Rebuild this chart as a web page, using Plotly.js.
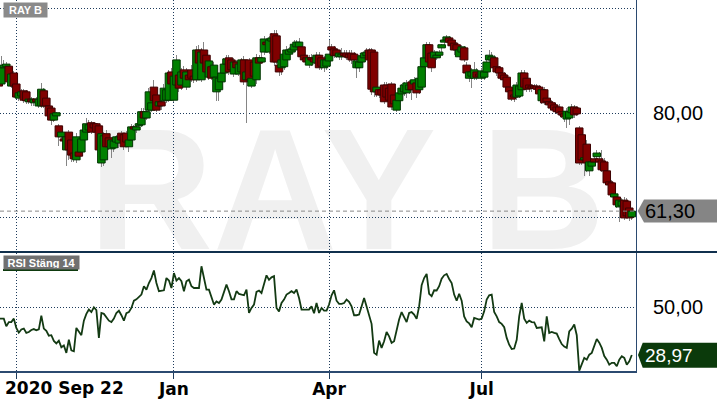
<!DOCTYPE html>
<html><head><meta charset="utf-8">
<script src="https://cdn.plot.ly/plotly-3.0.1.min.js"></script>
<style>html,body{margin:0;padding:0;background:#fff;}#chart{width:717px;height:404px;}</style>
</head><body><div id="chart"></div>
<script>
// ---- data ----
const priceOpen = [
88.3,85.6,88.7,88.9,89.0,85.2,87.7,85.6,82.9,83.3,
84.3,84.1,82.2,82.7,82.0,82.7,81.4,81.4,84.3,82.9,
81.4,81.0,78.7,79.5,77.6,75.5,75.1,73.0,76.4,74.9,
72.4,71.1,72.6,72.6,74.9,76.4,76.8,78.2,78.0,78.0,
77.6,70.5,71.1,76.1,75.3,73.2,73.4,74.5,74.3,76.2,
75.9,76.2,73.6,74.9,77.4,76.8,77.6,77.8,80.3,79.1,
80.6,80.6,85.0,83.5,81.4,82.2,82.4,82.5,82.5,87.9,
82.5,85.4,87.3,85.4,88.3,85.0,87.3,88.3,87.1,86.4,
92.1,86.4,92.1,91.1,86.9,88.9,86.9,84.1,84.5,86.0,
87.7,89.4,90.6,90.2,87.5,89.8,87.5,87.9,90.2,86.4,
90.2,85.2,89.8,86.4,90.6,89.8,91.7,93.6,91.7,93.8,
95.2,94.8,89.2,88.7,88.9,90.2,91.3,91.7,92.1,92.7,
92.7,92.7,91.1,90.6,89.2,90.6,90.4,89.6,91.1,90.6,
88.7,89.0,90.0,92.7,92.3,92.1,90.8,90.8,91.5,91.5,
91.3,91.5,91.3,88.7,88.7,89.8,90.6,91.0,92.1,92.1,
91.7,84.1,84.5,84.5,85.4,85.4,84.8,85.6,83.5,80.6,
82.4,83.7,84.1,83.9,84.5,86.0,85.6,85.8,84.5,85.0,
88.9,90.6,93.1,91.5,90.6,90.6,91.1,92.5,93.6,94.0,
94.4,94.0,93.4,93.1,90.8,91.7,92.5,89.2,86.7,87.1,
86.7,87.9,87.5,86.7,86.9,87.9,90.2,90.2,90.6,88.9,
88.7,87.7,87.3,86.9,85.0,84.3,83.5,83.1,83.3,84.5,
87.7,86.7,85.4,85.2,85.2,85.2,85.0,82.4,84.5,82.9,
82.2,82.0,81.6,81.2,81.2,80.3,79.9,78.9,79.1,80.1,
81.2,81.0,77.2,75.9,71.1,74.1,69.0,69.9,71.3,71.7,
71.3,70.9,70.7,69.0,66.9,66.7,64.0,64.0,62.1,62.3,
63.4,63.2,61.9,60.2];
const priceHigh = [
89.2,91.0,90.2,89.8,89.4,87.9,88.1,86.0,84.5,84.6,
84.6,84.5,83.3,83.1,82.9,83.1,82.9,85.8,84.8,83.5,
81.8,81.4,80.3,80.3,78.0,76.8,75.7,75.9,76.8,75.3,
73.0,76.2,73.4,75.7,77.8,79.1,78.7,78.5,78.3,78.2,
78.0,76.8,76.4,76.8,75.9,75.5,75.3,75.9,76.1,76.6,
76.2,76.6,75.1,78.0,77.8,78.2,79.1,81.0,81.0,81.4,
84.8,82.5,86.4,84.1,83.3,82.9,85.6,85.2,88.3,88.7,
87.9,91.1,88.3,88.7,89.0,88.7,87.9,89.2,87.5,92.9,
93.1,92.5,93.6,91.7,90.6,89.4,89.8,87.9,87.5,88.3,
90.6,91.1,91.1,90.6,90.6,90.2,90.2,90.6,91.0,88.7,
90.6,87.5,90.6,91.3,91.1,91.7,94.8,94.4,94.8,95.3,
95.9,95.9,89.8,90.6,92.1,92.9,92.7,92.9,94.0,94.0,
94.4,93.2,91.7,91.1,91.1,91.3,91.0,91.7,91.7,91.1,
91.0,90.8,94.0,93.2,92.9,92.5,92.1,92.5,92.1,92.1,
92.1,92.1,91.7,90.6,90.6,91.7,92.1,92.5,92.5,92.5,
92.1,85.6,84.8,85.4,86.0,86.0,85.4,86.0,84.5,82.9,
84.5,85.6,86.0,86.4,86.4,86.4,86.9,86.4,87.3,89.4,
91.1,93.6,93.6,92.1,92.1,91.7,92.1,93.2,94.4,95.0,
94.8,94.4,93.6,93.6,92.5,93.1,92.9,89.8,88.3,88.7,
89.8,88.7,87.9,88.7,88.3,91.1,92.1,91.7,91.1,89.4,
89.0,88.3,87.9,87.5,85.6,84.8,84.1,86.0,86.0,88.3,
88.3,87.3,86.0,85.6,85.6,85.6,85.4,84.8,85.0,83.5,
82.5,82.5,82.2,81.8,81.8,80.6,80.3,81.0,81.0,81.8,
81.6,81.4,77.6,76.8,72.0,74.9,71.5,71.5,71.8,73.0,
72.6,73.0,71.5,69.6,67.3,67.3,65.0,64.6,63.8,63.8,
64.0,63.8,62.5,61.7];
const priceLow = [
84.8,85.2,88.3,88.5,85.4,84.8,84.5,82.7,82.4,82.9,
82.0,81.8,81.8,81.4,81.4,81.8,81.0,81.0,81.0,80.6,
79.1,77.8,78.3,79.1,73.8,74.9,73.9,69.9,71.1,70.7,
70.7,70.5,71.1,72.0,74.3,76.1,76.2,76.1,76.4,75.9,
70.5,69.7,69.9,73.0,73.0,71.5,72.6,73.8,73.4,74.3,
73.0,73.8,72.6,74.5,76.4,76.2,76.8,77.4,78.3,78.7,
80.3,80.3,82.0,80.3,81.0,80.6,81.8,82.0,82.2,84.8,
82.2,84.8,84.1,84.5,86.4,84.5,85.6,86.0,85.8,86.0,
89.0,86.0,89.0,87.3,86.4,86.4,86.4,82.4,82.4,85.4,
87.1,89.0,87.3,87.5,86.9,88.3,87.1,87.5,85.4,78.2,
86.0,84.8,86.0,85.6,89.0,89.4,91.1,92.1,91.3,93.4,
89.0,89.4,87.1,87.3,88.3,89.4,91.0,91.3,91.7,92.5,
92.1,90.2,89.8,89.4,88.7,89.0,89.4,89.0,88.3,88.3,
87.9,88.3,89.6,91.5,90.6,90.6,90.2,90.2,90.6,90.2,
89.8,89.4,89.8,86.7,87.9,89.4,90.2,90.6,89.4,83.5,
83.1,83.1,82.9,82.9,81.8,82.5,81.8,80.6,81.4,80.3,
81.8,83.3,83.3,82.9,83.7,82.5,84.8,82.9,83.7,84.5,
88.3,90.2,89.2,87.9,89.8,90.2,90.6,91.7,93.1,93.6,
93.2,92.5,91.1,91.7,90.2,91.1,89.8,87.1,86.0,84.8,
86.4,86.4,86.7,86.4,86.4,87.3,89.8,89.8,88.3,87.1,
86.9,86.4,85.6,84.5,83.5,82.4,82.2,82.5,82.9,84.1,
84.5,84.1,84.1,84.1,84.5,84.1,83.3,81.8,81.6,81.8,
81.2,80.6,80.3,79.9,79.5,79.1,78.3,77.2,77.8,79.5,
79.1,79.5,70.1,70.1,68.0,68.8,68.0,69.6,70.1,71.1,
70.1,68.8,68.4,66.3,65.7,64.0,63.6,61.9,59.2,61.5,
59.6,60.0,59.4,59.6];
const priceClose = [
85.2,88.7,89.2,89.4,86.0,87.5,85.2,83.1,83.9,84.1,
82.5,82.4,82.7,82.2,82.7,82.2,82.7,84.6,81.4,81.4,
79.5,78.7,79.9,80.1,75.5,76.4,74.7,75.5,73.0,72.0,
71.3,75.5,71.8,75.1,76.8,78.0,77.8,76.4,77.2,76.4,
73.0,76.1,75.7,73.6,73.6,74.9,74.7,75.5,75.5,74.9,
73.6,74.5,74.9,77.4,77.0,77.4,78.0,80.3,79.1,80.3,
84.1,82.0,82.4,80.6,82.2,81.4,84.8,84.5,87.7,85.6,
87.1,90.2,84.8,87.9,86.7,87.9,86.4,86.7,86.4,92.1,
89.6,91.7,89.6,87.9,90.0,86.7,89.2,86.9,86.7,87.7,
89.4,90.4,87.9,88.3,89.8,88.7,89.4,90.2,86.0,87.9,
86.4,86.7,87.1,90.6,89.6,90.6,94.2,93.1,94.0,94.4,
89.8,89.8,87.9,90.2,91.3,92.1,92.1,92.3,93.2,93.6,
93.6,90.8,90.2,89.8,90.6,90.2,89.8,91.1,88.7,89.0,
90.2,90.2,91.3,92.1,91.0,91.1,91.5,91.3,91.0,90.8,
90.6,90.2,90.2,90.0,89.8,91.0,91.5,91.7,90.2,84.6,
84.1,85.0,83.5,83.5,82.2,83.1,82.5,81.2,81.8,82.5,
83.9,84.8,85.4,85.8,85.4,84.5,86.4,83.9,86.7,88.9,
90.6,93.1,89.8,88.7,91.7,91.1,91.7,93.1,94.0,94.6,
93.6,92.9,92.1,92.1,92.1,92.7,90.2,87.7,87.9,87.9,
88.3,86.9,87.1,88.1,87.9,89.8,91.1,90.8,88.7,87.9,
87.7,86.7,86.4,85.0,84.1,82.7,83.1,85.4,85.2,87.7,
85.0,84.6,84.8,84.8,84.8,84.6,83.7,84.5,82.0,82.2,
81.6,81.0,80.6,80.3,80.1,79.7,79.3,80.4,80.3,81.2,
79.7,79.9,70.5,71.1,71.5,70.5,70.7,70.7,70.7,72.4,
70.7,69.2,69.0,66.7,66.3,64.4,64.6,62.5,63.4,63.2,
60.0,60.4,60.0,61.3];
const rsiValues = [
45.0,45.1,45.0,41.6,43.5,43.5,45.0,40.9,38.8,40.2,
40.6,38.7,39.1,40.0,40.4,39.9,40.3,46.3,40.6,39.6,
37.5,37.7,35.2,34.1,35.3,32.4,33.2,29.9,35.7,31.0,
30.6,40.9,39.1,37.7,44.1,47.1,49.0,47.9,50.0,48.7,
36.5,47.5,47.1,45.6,44.1,43.5,45.0,47.5,48.5,46.5,
44.1,47.4,47.9,49.7,52.9,53.5,54.7,55.6,59.3,57.8,
60.7,62.9,66.2,60.7,57.1,57.4,57.5,62.9,61.8,58.5,
65.1,61.8,62.9,61.5,57.1,61.5,62.2,59.3,58.5,58.5,
58.5,68.1,62.9,57.8,57.8,54.9,51.2,52.6,51.9,53.4,
56.3,60.0,57.1,53.5,53.5,57.1,55.9,55.6,55.3,57.8,
47.5,49.7,51.2,56.8,57.4,56.3,60.7,64.1,62.1,63.2,
63.7,49.7,48.2,51.9,53.4,55.6,56.3,57.1,56.3,57.8,
54.1,49.0,49.0,49.0,49.0,50.4,47.4,51.9,47.5,49.7,
48.5,48.5,51.2,55.3,57.5,52.9,51.5,51.5,51.9,53.4,
52.4,50.4,46.5,46.5,46.8,50.4,54.1,50.4,46.5,42.7,
29.9,29.1,35.3,32.1,35.0,39.1,37.2,34.3,35.0,40.2,
44.6,47.9,45.6,43.5,47.5,47.9,46.8,44.9,50.4,59.7,
62.9,64.7,55.9,54.9,57.5,57.4,59.3,62.6,64.1,64.7,
62.5,60.7,55.6,52.9,56.0,52.9,46.0,43.8,42.9,41.2,
45.3,45.0,44.6,45.0,48.2,53.4,55.3,55.6,47.9,46.0,
43.5,42.7,41.2,36.5,33.5,31.6,31.8,35.7,46.0,51.9,
45.0,43.1,44.1,43.5,43.4,40.9,40.9,41.2,35.0,46.0,
38.7,39.1,38.7,38.4,36.0,33.8,32.7,32.1,39.4,40.6,
42.4,37.7,22.1,25.0,27.7,26.9,29.1,29.9,33.5,36.0,
34.4,32.1,28.5,26.9,24.7,25.5,25.5,24.0,26.9,28.4,
27.7,24.7,26.2,28.97];
const dateTickIndex = [7, 70, 132, 193];
const dateTickText = ['', 'Jan', 'Apr', 'Jul'];
const startDateLabel = '2020 Sep 22';
const priceTickVals = [60, 80, 100];
const priceTickText = ['', '80,00', ''];
const rsiTickVals = [50];
const rsiTickText = ['50,00'];
const instrumentName = 'RAY B';
const rsiName = 'RSI Stäng 14';

// ---- derived ----
const idx = priceClose.map((_, i) => i);
const isUp = priceClose.map((c, i) => c >= priceOpen[i]);
const bodyBase = priceClose.map((c, i) => Math.min(c, priceOpen[i]));
const bodyLen = priceClose.map((c, i) => Math.max(Math.abs(c - priceOpen[i]), 0.15));
const wickLen = priceHigh.map((h, i) => h - priceLow[i]);
const fmt = v => v.toFixed(2).replace('.', ',');
const lastClose = priceClose[priceClose.length - 1];
const lastRsi = rsiValues[rsiValues.length - 1];

const gridC = '#1d3b5c';
const axisC = '#2b4a70';
const W = 636, H = 371; // plot area in px
const px = x => x / W;
const py = y => 1 - y / H;

const traces = [
  { type:'bar', x: idx, base: priceLow, y: wickLen, width: 0.4,
    marker:{color:'#858585', line:{width:0}}, xaxis:'x', yaxis:'y', hoverinfo:'skip' },
  { type:'bar', x: idx, base: bodyBase, y: bodyLen, width: 3.0,
    marker:{ color: isUp.map(u => u ? '#008000' : '#800000'),
             line:{ color: isUp.map(u => u ? '#003300' : '#3d0000'), width: 1 } },
    xaxis:'x', yaxis:'y', hoverinfo:'skip' },
  { type:'scatter', mode:'lines', x: idx, y: rsiValues,
    line:{color:'#133a13', width:1.8}, xaxis:'x', yaxis:'y2', hoverinfo:'skip' }
];

const layout = {
  width:717, height:404,
  margin:{l:0, r:81, t:0, b:33, pad:0},
  paper_bgcolor:'#ffffff', plot_bgcolor:'rgba(0,0,0,0)',
  showlegend:false, barmode:'overlay', bargap:0,
  xaxis:{ range:[0.48, 254.68], anchor:'y2', tickmode:'array',
    tickvals: dateTickIndex, ticktext: dateTickText,
    ticks:'outside', ticklen:6, tickwidth:1, tickcolor:gridC,
    ticklabelstandoff:-4,
    showgrid:true, gridcolor:gridC, gridwidth:1, griddash:'1px,2px',
    showline:true, linecolor:axisC, linewidth:2, zeroline:false,
    tickfont:{family:'DejaVu Sans', size:17, color:'#000', weight:'bold'},
    fixedrange:true },
  yaxis:{ domain:[py(251), 1], range:[53.68, 101.65], side:'right',
    tickmode:'array', tickvals: priceTickVals, ticktext: priceTickText,
    ticks:'', showgrid:true, gridcolor:gridC, gridwidth:1, griddash:'1px,2px',
    showline:true, linecolor:axisC, linewidth:1, zeroline:false,
    ticklabelstandoff:12,
    tickfont:{family:'Liberation Sans', size:20, color:'#000'}, fixedrange:true },
  yaxis2:{ domain:[0, py(253)], range:[21.91, 73.94], side:'right',
    tickmode:'array', tickvals: rsiTickVals, ticktext: rsiTickText,
    ticks:'', showgrid:true, gridcolor:gridC, gridwidth:1, griddash:'1px,2px',
    showline:true, linecolor:axisC, linewidth:1, zeroline:false,
    ticklabelstandoff:12,
    tickfont:{family:'Liberation Sans', size:20, color:'#000'}, fixedrange:true },
  shapes:[
    { type:'rect', xref:'paper', yref:'paper', layer:'below',
      x0:px(247), x1:px(447), y0:py(232), y1:py(114),
      line:{width:0}, fillcolor:'rgba(0,0,0,0)',
      label:{ text: instrumentName, textposition:'middle center',
        font:{family:'Liberation Sans', size:172, color:'#f0f0f0', weight:'bold'} } },
    { type:'line', xref:'paper', yref:'y', x0:0, x1:1, y0:lastClose, y1:lastClose,
      line:{color:'#8a8a8a', width:1, dash:'4px,3px'} },
    { type:'line', xref:'paper', yref:'paper', x0:0, x1:717/W, y0:py(252), y1:py(252),
      line:{color:'#10304d', width:2} },
    { type:'rect', xref:'paper', yref:'paper', x0:px(3), x1:px(78), y0:py(271), y1:py(269),
      line:{width:0}, fillcolor:'#0e3a0e' },
    { type:'path', xref:'paper', yref:'paper', line:{width:0}, fillcolor:'#858585',
      path:`M${px(637.7)},${py(211)}L${px(644)},${py(199.5)}L${px(717)},${py(199.5)}L${px(717)},${py(222.5)}L${px(644)},${py(222.5)}Z` },
    { type:'path', xref:'paper', yref:'paper', line:{width:0}, fillcolor:'#0b3a0b',
      path:`M${px(638)},${py(355)}L${px(642.7)},${py(342.7)}L${px(717)},${py(342.7)}L${px(717)},${py(367.7)}L${px(642.7)},${py(367.7)}Z` }
  ],
  annotations:[
    { xref:'paper', yref:'paper', x:px(3), y:py(2), xanchor:'left', yanchor:'top',
      text: instrumentName, showarrow:false, bgcolor:'#8a8a8a', width:41, height:12, borderpad:1,
      font:{family:'Liberation Sans', size:11, color:'#ffffff', weight:'bold'} },
    { xref:'paper', yref:'paper', x:px(3), y:py(255), xanchor:'left', yanchor:'top',
      text: rsiName, showarrow:false, bgcolor:'#707070', width:73, height:11, borderpad:1,
      font:{family:'Liberation Sans', size:11, color:'#ffffff', weight:'bold'} },
    { xref:'paper', yref:'paper', x:px(3), y:py(388), xanchor:'left', yanchor:'middle',
      text: startDateLabel, showarrow:false,
      font:{family:'DejaVu Sans', size:17, color:'#000', weight:'bold'} },
    { xref:'paper', yref:'paper', x:px(643), y:py(211), xanchor:'left', yanchor:'middle',
      text: fmt(lastClose), showarrow:false,
      font:{family:'Liberation Sans', size:20, color:'#000'} },
    { xref:'paper', yref:'paper', x:px(643), y:py(355), xanchor:'left', yanchor:'middle',
      text: fmt(lastRsi), showarrow:false,
      font:{family:'Liberation Sans', size:19, color:'#ffffff'} }
  ]
};

Plotly.newPlot('chart', traces, layout, {displayModeBar:false, staticPlot:true});
</script>
</body></html>
